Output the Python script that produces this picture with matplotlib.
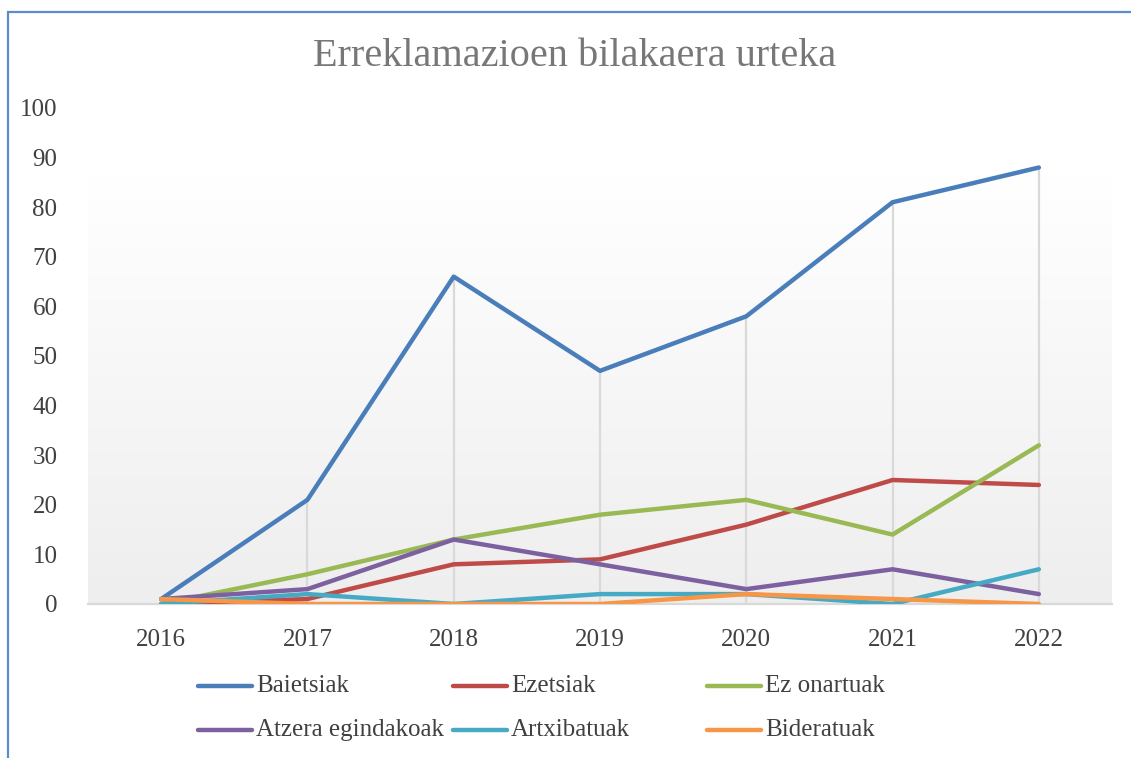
import numpy as np
import matplotlib
matplotlib.use("Agg")
import matplotlib.pyplot as plt
from matplotlib.colors import LinearSegmentedColormap
from matplotlib.lines import Line2D
from matplotlib.patches import Rectangle

plt.rcParams['font.family'] = ['Liberation Serif', 'DejaVu Serif']

years = ['2016', '2017', '2018', '2019', '2020', '2021', '2022']
baietsiak = [1, 21, 66, 47, 58, 81, 88]
ezetsiak = [0, 1, 8, 9, 16, 25, 24]
ez_onartuak = [0, 6, 13, 18, 21, 14, 32]
atzera = [1, 3, 13, 8, 3, 7, 2]
artxibatuak = [0, 2, 0, 2, 2, 0, 7]
bideratuak = [1, 0, 0, 0, 2, 1, 0]

series = [
    ('Baietsiak', baietsiak, '#4A7EBB'),
    ('Ezetsiak', ezetsiak, '#BE4B48'),
    ('Ez onartuak', ez_onartuak, '#98B954'),
    ('Atzera egindakoak', atzera, '#7D60A0'),
    ('Artxibatuak', artxibatuak, '#46AAC5'),
    ('Bideratuak', bideratuak, '#F79646'),
]

W, H = 1131, 758
fig = plt.figure(figsize=(W / 100, H / 100), dpi=100)
ax = fig.add_axes([88 / W, 1 - 604 / H, (1112 - 88) / W, (604 - 108) / H])

x = np.arange(len(years))

# gradient plot-area fill (white at top to light grey at bottom)
cmap = LinearSegmentedColormap.from_list('bg', ['#FFFFFF', '#EEEEEE'])
grad = np.linspace(0, 1, 256).reshape(-1, 1)
ax.imshow(grad, cmap=cmap, aspect='auto', extent=[-0.5, 6.5, 0, 86.5],
          origin='upper', zorder=0)

# drop lines
tops = np.max([s[1] for s in series], axis=0)
ax.vlines(x, 0, tops, color='#D9D9D9', linewidth=1.6, zorder=1)

for name, vals, col in series:
    ax.plot(x, vals, color=col, linewidth=3.2, solid_capstyle='round',
            solid_joinstyle='round', zorder=3)

ax.set_xlim(-0.5, 6.5)
ax.set_ylim(0, 100)
ax.set_xticks(x)
ax.set_xticklabels(years)
ax.set_yticks(np.arange(0, 101, 10))
ax.tick_params(length=0, labelsize=18, colors='#404040', pad=18)
ax.tick_params(axis='y', pad=22)
for s in ['top', 'right', 'left']:
    ax.spines[s].set_visible(False)
ax.spines['bottom'].set_color('#D9D9D9')
ax.spines['bottom'].set_linewidth(1.6)
ax.patch.set_visible(False)

fig.text(575 / W, 1 - 57 / H, 'Erreklamazioen bilakaera urteka', ha='center',
         va='center', fontsize=29, color='#777777')

# legend, laid out like the original (3 columns, 2 rows)
leg_x = [198, 453, 707]
leg_y = [686, 730]
for i, (name, vals, col) in enumerate(series):
    lx = leg_x[i % 3]
    ly = leg_y[i // 3]
    fig.add_artist(Line2D([lx / W, (lx + 54) / W], [1 - ly / H, 1 - ly / H],
                          color=col, linewidth=3.2, solid_capstyle='round'))
    fig.text((lx + 58) / W, 1 - ly / H, name, ha='left', va='center',
             fontsize=18, color='#404040')

# chart border (partially cropped in the original)
fig.add_artist(Rectangle((8 / W, -0.1), 1.2, 1 - 12 / H + 0.1,
                         transform=fig.transFigure, fill=False,
                         edgecolor='#5B8BC9', linewidth=1.6))

fig.savefig('out.png', dpi=100)
